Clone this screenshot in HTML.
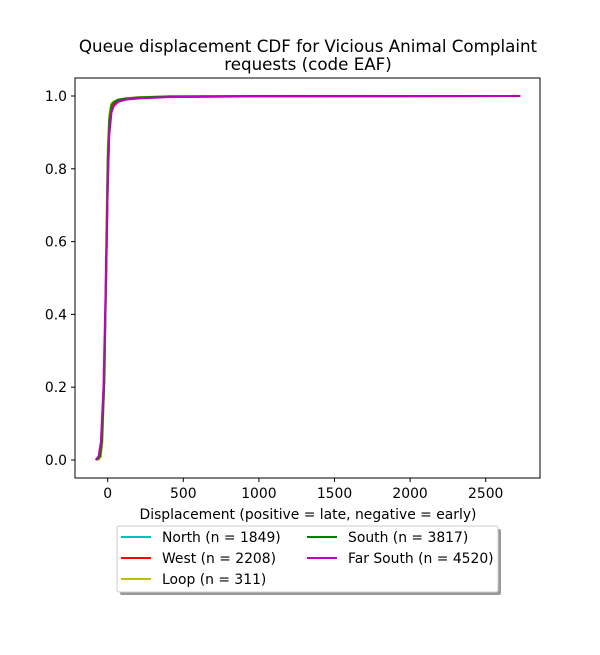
<!DOCTYPE html>
<html><head><meta charset="utf-8"><style>
body{margin:0;background:#fff;font-family:"Liberation Sans","DejaVu Sans",sans-serif}
svg text{font-family:"DejaVu Sans","Liberation Sans",sans-serif}
</style></head><body>
<svg id="chart" width="600" height="650">
<rect width="600" height="650" fill="#fff"/>
<text x="308" y="52" font-size="16.7" text-anchor="middle">Queue displacement CDF for Vicious Animal Complaint</text>
<text x="308" y="70" font-size="16.7" text-anchor="middle">requests (code EAF)</text>
<g id="plot"></g>
<rect x="75" y="78" width="465" height="400" fill="none" stroke="#000" stroke-width="1"/>
<g id="xticks"></g><g id="yticks"></g>
<text x="308" y="519" font-size="13.9" text-anchor="middle">Displacement (positive = late, negative = early)</text>
<g>
<rect x="120" y="529" width="381" height="66" fill="#999" rx="2"/>
<rect x="117" y="526" width="381" height="66" fill="#fff" stroke="#ccc" rx="2"/>
<g id="legend"></g>
</g>
</svg>
<script>
const seriesNames=["North (n = 1849)","West (n = 2208)","Loop (n = 311)","South (n = 3817)","Far South (n = 4520)"];
const seriesColors=["#00bfbf","#ff0000","#bfbf00","#008000","#bf00bf"];
const xTicks=[500,1000,1500,2000,2500];
const yTicks=[0.0,0.2,0.4,0.6,0.8,1.0];
const northX=[-75,-55,-40,-25,-10,0,10,25,40,70,120,200,400,1000,2730];
const northY=[0,0.01,0.05,0.2,0.5,0.75,0.9,0.96,0.975,0.985,0.99,0.995,0.998,0.999,1];
const westX=[-75,-55,-40,-25,-10,0,10,25,40,70,120,200,400,1000,2730];
const westY=[0,0.01,0.05,0.2,0.5,0.76,0.91,0.965,0.978,0.987,0.992,0.995,0.998,0.999,1];
const loopX=[-60,-45,-35,-20,-10,0,10,25,40,70,120,200,400,1000,2730];
const loopY=[0,0.01,0.05,0.25,0.6,0.85,0.95,0.98,0.985,0.99,0.994,0.997,0.999,1,1];
const southX=[-70,-50,-38,-22,-10,0,10,25,40,70,120,200,400,1000,2730];
const southY=[0,0.01,0.05,0.22,0.55,0.82,0.93,0.975,0.983,0.99,0.993,0.996,0.999,1,1];
const farSouthX=[-80,-60,-45,-28,-12,0,10,25,40,70,120,200,400,1000,2730];
const farSouthY=[0,0.01,0.05,0.2,0.5,0.74,0.89,0.955,0.972,0.984,0.99,0.993,0.997,0.999,1];
const allX=[northX,westX,loopX,southX,farSouthX], allY=[northY,westY,loopY,southY,farSouthY];
const NS="http://www.w3.org/2000/svg";
const sx=v=>107.7+v*(75.6/500), sy=v=>460-v*364;
const plot=document.getElementById('plot');
allX.forEach((xs,i)=>{
 const p=document.createElementNS(NS,'polyline');
 p.setAttribute('points',xs.map((x,j)=>sx(x)+','+sy(allY[i][j])).join(' '));
 p.setAttribute('fill','none');p.setAttribute('stroke',seriesColors[i]);p.setAttribute('stroke-width','2');
 
 
 plot.appendChild(p);
});
const xt=document.getElementById('xticks');
[0].concat(xTicks).forEach(v=>{
 const l=document.createElementNS(NS,'line');
 l.setAttribute('x1',sx(v));l.setAttribute('x2',sx(v));l.setAttribute('y1',478);l.setAttribute('y2',482);l.setAttribute('stroke','#000');
 
 
 xt.appendChild(l);
 const t=document.createElementNS(NS,'text');
 t.setAttribute('x',sx(v));t.setAttribute('y',498);t.setAttribute('font-size','13.9');t.setAttribute('text-anchor','middle');
 t.textContent=v;
 
 
 xt.appendChild(t);
});
const yt=document.getElementById('yticks');
yTicks.forEach(v=>{
 const l=document.createElementNS(NS,'line');
 l.setAttribute('x1',71);l.setAttribute('x2',75);l.setAttribute('y1',sy(v));l.setAttribute('y2',sy(v));l.setAttribute('stroke','#000');
 
 
 yt.appendChild(l);
 const t=document.createElementNS(NS,'text');
 t.setAttribute('x',67);t.setAttribute('y',sy(v)+5);t.setAttribute('font-size','13.9');t.setAttribute('text-anchor','end');
 t.textContent=v.toFixed(1);
 
 
 yt.appendChild(t);
});
const lg=document.getElementById('legend');
const pos=[[121,537],[121,558],[121,579],[307,537],[307,558]];
seriesNames.forEach((n,i)=>{
 const [x,y]=pos[i];
 const g=document.createElementNS(NS,'g');
 
 
 const l=document.createElementNS(NS,'line');
 l.setAttribute('x1',x);l.setAttribute('x2',x+30);l.setAttribute('y1',y);l.setAttribute('y2',y);
 l.setAttribute('stroke',seriesColors[i]);l.setAttribute('stroke-width','2');
 g.appendChild(l);
 const t=document.createElementNS(NS,'text');
 t.setAttribute('x',x+41);t.setAttribute('y',y+5);t.setAttribute('font-size','13.9');
 t.textContent=n;g.appendChild(t);
 lg.appendChild(g);
});
</script>
</body></html>
